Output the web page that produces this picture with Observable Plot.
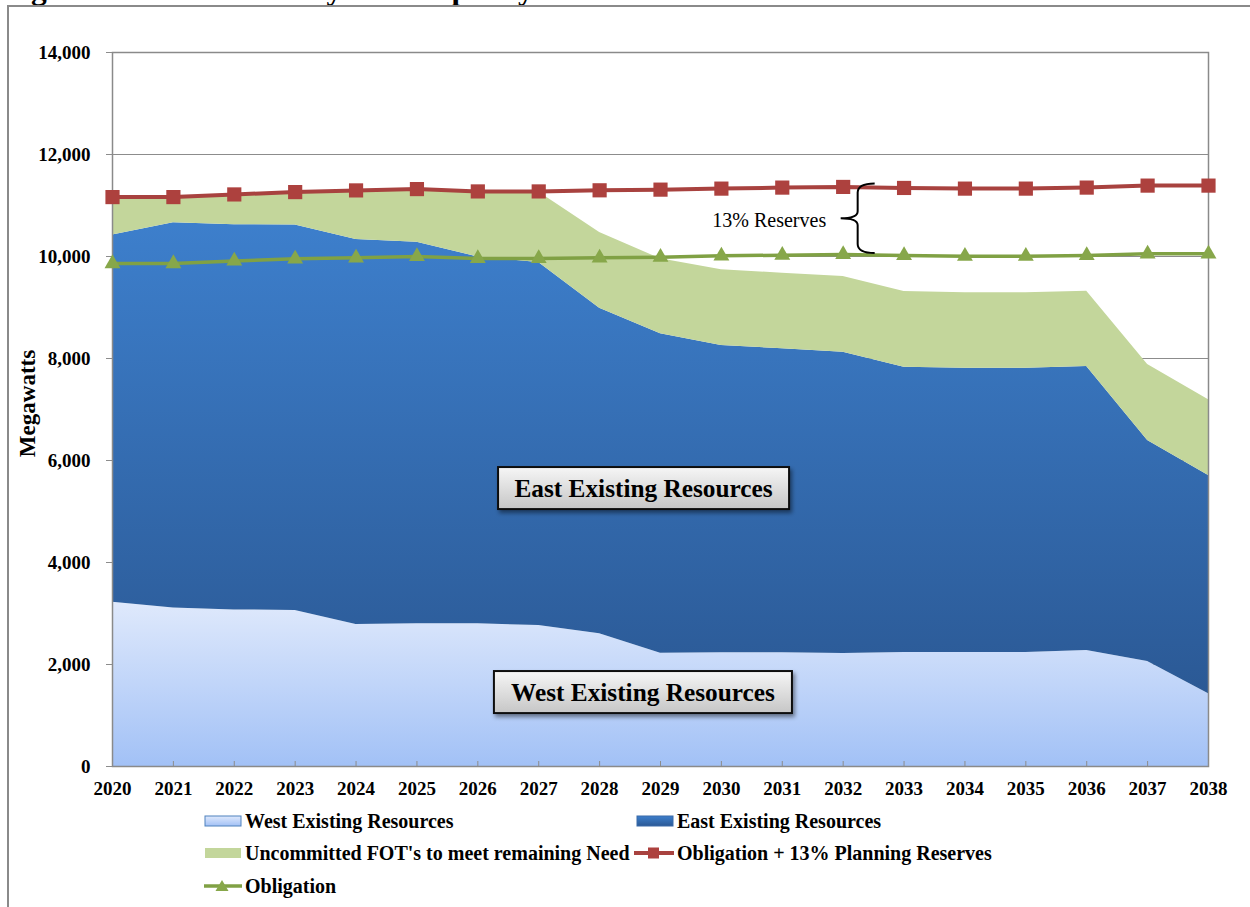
<!DOCTYPE html>
<html>
<head>
<meta charset="utf-8">
<script src="https://cdn.jsdelivr.net/npm/d3@7"></script>
<script src="https://cdn.jsdelivr.net/npm/@observablehq/plot@0.6"></script>
<style>
  body { margin: 0; background: #fff; }
  #page { position: relative; width: 1250px; height: 907px; overflow: hidden; background: #fff;
          font-family: "Liberation Serif", "Times New Roman", serif; color: #000; }
  #frame { position: absolute; left: 7px; top: 5px; width: 1400px; height: 1100px;
           border-left: 2px solid #8a8a8a; border-top: 2px solid #8a8a8a; }
  #titleClip { position: absolute; left: 0; top: 0; width: 1250px; height: 5px; overflow: hidden; }
  #title { position: absolute; left: 3px; top: -27px; white-space: nowrap; font-size: 31.5px;
           line-height: 31.5px; font-weight: bold; }
  #chart { position: absolute; left: 0; top: 0; }
  #legend { position: absolute; left: 0; top: 800px; width: 1250px; height: 107px; }
  .item { position: absolute; display: flex; align-items: center; height: 22px;
          font-size: 20px; font-weight: bold; white-space: nowrap; }
  .item svg { display: block; margin-right: 3px; }
</style>
</head>
<body>
<svg width="0" height="0" style="position:absolute">
  <defs>
    <linearGradient id="gWest" x1="0" y1="0" x2="0" y2="1">
      <stop offset="0" stop-color="#dfe9fc"/>
      <stop offset="1" stop-color="#a2c1f6"/>
    </linearGradient>
    <linearGradient id="gEast" x1="0" y1="0" x2="0" y2="1">
      <stop offset="0" stop-color="#3d7fcc"/>
      <stop offset="1" stop-color="#2b5995"/>
    </linearGradient>
    <linearGradient id="gBox" x1="0" y1="0" x2="0" y2="1">
      <stop offset="0" stop-color="#f6f6f6"/>
      <stop offset="1" stop-color="#c6c6c6"/>
    </linearGradient>
    <filter id="shadow" x="-10%" y="-30%" width="130%" height="180%">
      <feDropShadow dx="2" dy="3" stdDeviation="2" flood-color="#000" flood-opacity="0.45"/>
    </filter>
  </defs>
</svg>
<div id="page">
  <div id="frame"></div>
  <div id="titleClip"><div id="title">Figure 5.10 – Summer System Capacity Position Trend</div></div>
  <div id="chart"></div>
  <div id="legend"></div>
</div>
<script>
// ---- data (MW) ----
const years = [2020, 2021, 2022, 2023, 2024, 2025, 2026, 2027, 2028, 2029, 2030, 2031, 2032, 2033, 2034, 2035, 2036, 2037, 2038];
const westExisting = [3220, 3110, 3070, 3060, 2785, 2797, 2797, 2765, 2601, 2222, 2229, 2229, 2216, 2235, 2235, 2235, 2275, 2059, 1425];
const eastExisting = [7200, 7550, 7555, 7560, 7550, 7480, 7195, 7115, 6385, 6262, 6026, 5961, 5908, 5595, 5575, 5575, 5568, 4333, 4281];
const uncommittedFOT = [730, 500, 580, 630, 950, 1035, 1275, 1385, 1485, 1470, 1484, 1483, 1484, 1484, 1478, 1478, 1477, 1490, 1484];
const obligation = [9862, 9862, 9914, 9954, 9974, 10000, 9961, 9961, 9974, 9987, 10013, 10026, 10039, 10020, 10007, 10007, 10020, 10052, 10052];
const obligationReserves = [11165, 11165, 11217, 11263, 11296, 11322, 11276, 11276, 11298, 11311, 11331, 11351, 11364, 11344, 11331, 11331, 11351, 11390, 11390];
const yTicks = [0, 2000, 4000, 6000, 8000, 10000, 12000, 14000];
const seriesNames = ["West Existing Resources", "East Existing Resources", "Uncommitted FOT's to meet remaining Need", "Obligation + 13% Planning Reserves", "Obligation"];
const reserveLabel = "13% Reserves";
const reserveYear = 2032;
const areaLabels = [
  {text: "East Existing Resources", x: 2028.73, y: 5450, w: 291},
  {text: "West Existing Resources", x: 2028.72, y: 1450, w: 298}
];

const rows = years.map((year, i) => ({
  year,
  west: westExisting[i],
  eastTop: westExisting[i] + eastExisting[i],
  fotTop: westExisting[i] + eastExisting[i] + uncommittedFOT[i],
  obl: obligation[i],
  res: obligationReserves[i]
}));

const FONT = '"Liberation Serif", "Times New Roman", serif';
const ri = years.indexOf(reserveYear);

// curly brace between the two obligation lines at reserveYear
function brace(index, {x, y}) {
  const xv = x(reserveYear) + 15;
  const top = y(obligationReserves[ri]) - 3;
  const bot = y(obligation[ri]) - 1;
  const mid = (top + bot) / 2;
  const p = d3.path();
  p.moveTo(xv + 17, top);
  p.quadraticCurveTo(xv, top, xv, top + 9);
  p.lineTo(xv, mid - 7);
  p.quadraticCurveTo(xv, mid, xv - 17, mid);
  p.quadraticCurveTo(xv, mid, xv, mid + 7);
  p.lineTo(xv, bot - 9);
  p.quadraticCurveTo(xv, bot, xv + 17, bot);
  const g = document.createElementNS("http://www.w3.org/2000/svg", "path");
  g.setAttribute("d", p.toString());
  g.setAttribute("fill", "none");
  g.setAttribute("stroke", "#000");
  g.setAttribute("stroke-width", "2");
  return g;
}

function labelBoxes(index, {x, y}) {
  const ns = "http://www.w3.org/2000/svg";
  const g = document.createElementNS(ns, "g");
  for (const L of areaLabels) {
    const cx = x(L.x), cy = y(L.y), h = 42;
    const r = document.createElementNS(ns, "rect");
    r.setAttribute("x", cx - L.w / 2); r.setAttribute("y", cy - h / 2);
    r.setAttribute("width", L.w); r.setAttribute("height", h);
    r.setAttribute("fill", "url(#gBox)"); r.setAttribute("stroke", "#111");
    r.setAttribute("stroke-width", "2"); r.setAttribute("filter", "url(#shadow)");
    g.appendChild(r);
    const t = document.createElementNS(ns, "text");
    t.setAttribute("x", cx); t.setAttribute("y", cy);
    t.setAttribute("text-anchor", "middle"); t.setAttribute("dy", "0.34em");
    t.setAttribute("font-size", "25.3"); t.setAttribute("font-weight", "bold");
    t.setAttribute("font-family", FONT); t.setAttribute("fill", "#000");
    t.textContent = L.text;
    g.appendChild(t);
  }
  return g;
}

const chart = Plot.plot({
  width: 1250,
  height: 800,
  marginLeft: 112,
  marginRight: 42,
  marginTop: 52,
  marginBottom: 34,
  style: {background: "transparent", fontFamily: FONT, color: "#000", overflow: "visible"},
  x: {domain: [years[0], years[years.length - 1]]},
  y: {domain: [0, 14000]},
  marks: [
    Plot.ruleY(yTicks, {stroke: "#8c8c8c", strokeWidth: 1}),
    Plot.areaY(rows, {x: "year", y1: 0, y2: "west", fill: "url(#gWest)"}),
    Plot.areaY(rows, {x: "year", y1: "west", y2: "eastTop", fill: "url(#gEast)"}),
    Plot.areaY(rows, {x: "year", y1: "eastTop", y2: "fotTop", fill: "#c3d69b"}),
    Plot.frame({stroke: "#8a8a8a", strokeWidth: 1.5}),
    Plot.ruleX(years, {x: d => d, y1: 0, y2: 0, insetTop: -5, stroke: "#8c8c8c"}),
    Plot.axisY({ticks: yTicks, tickFormat: d3.format(","), tickSize: 6, tickPadding: 16,
                stroke: "#8c8c8c", fill: "#000", fontSize: 19, fontWeight: "bold", label: null}),
    Plot.axisX({ticks: years, tickFormat: d => String(d), tickSize: 0, tickPadding: 15,
                fill: "#000", fontSize: 19, fontWeight: "bold", label: null}),
    Plot.text(["Megawatts"], {frameAnchor: "left", textAnchor: "middle", rotate: -90, dx: -85, dy: -6,
                fontSize: 23, fontWeight: "bold", fill: "#000"}),
    Plot.line(rows, {x: "year", y: "obl", stroke: "#80a144", strokeWidth: 3.5}),
    Plot.dot(rows, {x: "year", y: "obl", symbol: "triangle", r: 5.9, fill: "#87a74a", stroke: null}),
    Plot.line(rows, {x: "year", y: "res", stroke: "#a8423f", strokeWidth: 4}),
    Plot.dot(rows, {x: "year", y: "res", symbol: "square", r: 8, fill: "#ad413e", stroke: null}),
    brace,
    Plot.text([reserveLabel], {x: reserveYear, y: (obligation[ri] + obligationReserves[ri]) / 2,
               textAnchor: "end", dx: -17, fontSize: 20, fill: "#000"}),
    labelBoxes
  ]
});
document.getElementById("chart").appendChild(chart);

// ---- legend ----
const swatches = {
  west: '<svg width="38" height="12"><rect x="1" y="1" width="36" height="10" fill="url(#gWest)" stroke="#4f81bd" stroke-width="1"/></svg>',
  east: '<svg width="38" height="12"><rect x="1" y="1" width="36" height="10" fill="url(#gEast)" stroke="#3a6aa8" stroke-width="1"/></svg>',
  fot: '<svg width="38" height="12"><rect x="1" y="1" width="36" height="10" fill="#c3d69b"/></svg>',
  res: '<svg width="40" height="14"><line x1="0" y1="7" x2="40" y2="7" stroke="#a8423f" stroke-width="4"/><rect x="14" y="1.5" width="11" height="11" fill="#ad413e"/></svg>',
  obl: '<svg width="38" height="14"><line x1="0" y1="7" x2="38" y2="7" stroke="#80a144" stroke-width="3.5"/><path d="M18,1 L24.5,12 L11.5,12 Z" fill="#87a74a"/></svg>'
};
const legendItems = [
  {key: "west", name: seriesNames[0], left: 204, top: 10},
  {key: "east", name: seriesNames[1], left: 636, top: 10},
  {key: "fot", name: seriesNames[2], left: 204, top: 42},
  {key: "res", name: seriesNames[3], left: 634, top: 42},
  {key: "obl", name: seriesNames[4], left: 204, top: 75}
];
const leg = document.getElementById("legend");
for (const it of legendItems) {
  const d = document.createElement("div");
  d.className = "item";
  d.style.left = it.left + "px";
  d.style.top = it.top + "px";
  d.innerHTML = swatches[it.key] + '<span>' + it.name + '</span>';
  leg.appendChild(d);
}
</script>
</body>
</html>
